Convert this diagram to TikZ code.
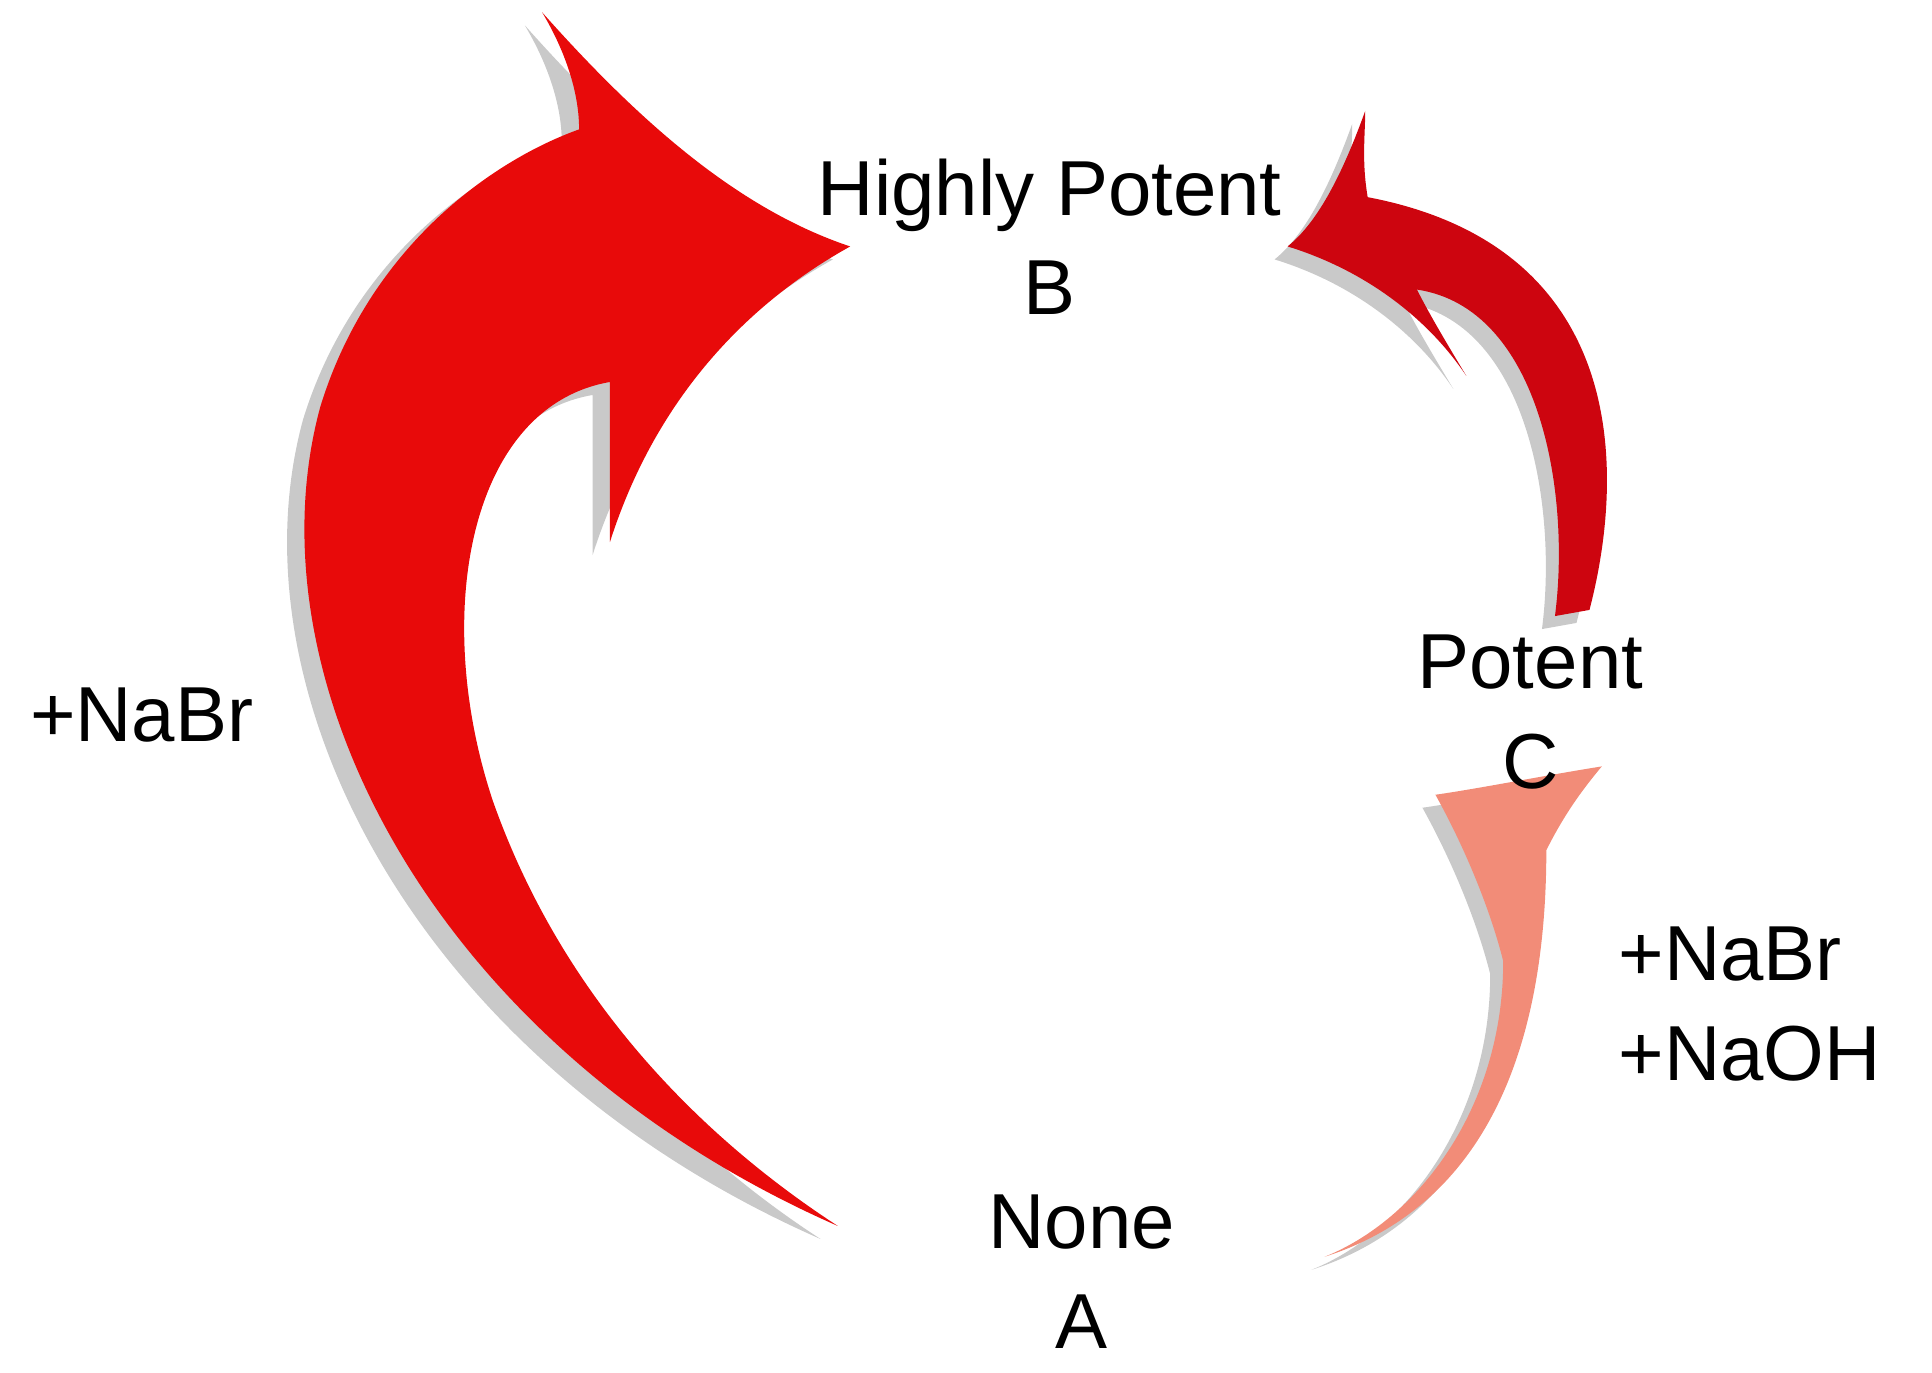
\documentclass[tikz,border=0pt]{standalone}
\usepackage{fontspec}
\setmainfont{Liberation Sans}
\begin{document}
\begin{tikzpicture}[x=0.01cm,y=-0.01cm,
  lbl/.style={font=\fontsize{18}{23}\selectfont,align=center,inner sep=0pt},
  shad/.style={fill=black!30,opacity=0.7}]
\useasboundingbox (0,0) rectangle (1568,1114);
% big left arrow
\def\bigarrow{(680,995) .. controls (350,850) and (200,550) .. (260,330) .. controls (300,200) and (400,130) .. (470,105) .. controls (470,70) and (455,35) .. (440,10) .. controls (520,100) and (600,170) .. (690,200) .. controls (600,250) and (530,330) .. (495,440) -- (495,310) .. controls (380,330) and (350,500) .. (400,650) .. controls (460,820) and (580,930) .. cycle}
\fill[shad,xshift=-4pt,yshift=-3pt] \bigarrow;
\fill[fill={rgb,255:red,232;green,10;blue,10}] \bigarrow;
% top right arrow
\def\toparrow{(1290,495) .. controls (1320,380) and (1320,200) .. (1110,160) .. controls (1105,130) and (1108,110) .. (1108,90) .. controls (1090,140) and (1070,180) .. (1045,200) .. controls (1110,220) and (1160,260) .. (1190,305) .. controls (1175,280) and (1160,255) .. (1150,235) .. controls (1250,250) and (1275,400) .. (1262,500) -- cycle}
\fill[shad,xshift=-3pt,yshift=-3pt] \toparrow;
\fill[fill={rgb,255:red,205;green,5;blue,15}] \toparrow;
% bottom right arrow
\def\lowarrow{(1075,1020) .. controls (1200,980) and (1255,860) .. (1255,690) .. controls (1270,660) and (1285,640) .. (1300,622) .. controls (1250,630) and (1200,640) .. (1165,645) .. controls (1190,690) and (1210,740) .. (1220,780) .. controls (1220,900) and (1150,990) .. cycle}
\fill[shad,xshift=-3pt,yshift=-3pt] \lowarrow;
\fill[fill={rgb,255:red,242;green,140;blue,120}] \lowarrow;
% labels
\node[lbl] (B) at (852,192) {Highly Potent\\B};
\node[lbl] (C) at (1242,578) {Potent\\C};
\node[lbl] (A) at (878,1032) {None\\A};
\node[lbl] (l1) at (115,580) {+NaBr};
\node[lbl,align=left,anchor=west] (l2) at (1313,815) {+NaBr\\+NaOH};
\end{tikzpicture}
\end{document}
